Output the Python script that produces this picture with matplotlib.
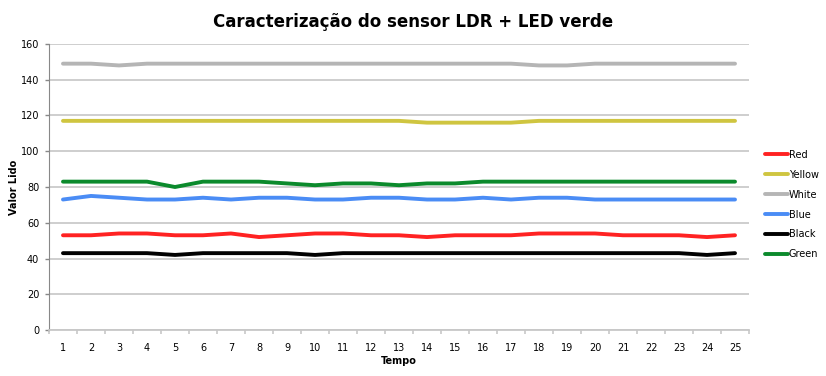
import numpy as np
import matplotlib.pyplot as plt

tempo = list(range(1, 26))

red = [53, 53, 54, 54, 53, 53, 54, 52, 53, 54, 54, 53, 53, 52, 53, 53, 53, 54, 54, 54, 53, 53, 53, 52, 53]
yellow = [117] * 13 + [116, 116, 116, 116] + [117] * 8
white = [149, 149, 148, 149, 149, 149, 149, 149, 149, 149, 149, 149, 149, 149, 149, 149, 149, 148, 148, 149, 149, 149, 149, 149, 149]
blue = [73, 75, 74, 73, 73, 74, 73, 74, 74, 73, 73, 74, 74, 73, 73, 74, 73, 74, 74, 73, 73, 73, 73, 73, 73]
black = [43, 43, 43, 43, 42, 43, 43, 43, 43, 42, 43, 43, 43, 43, 43, 43, 43, 43, 43, 43, 43, 43, 43, 42, 43]
green = [83, 83, 83, 83, 80, 83, 83, 83, 82, 81, 82, 82, 81, 82, 82, 83, 83, 83, 83, 83, 83, 83, 83, 83, 83]

series = [("Red", red, "#ff2222"),
          ("Yellow", yellow, "#cfc540"),
          ("White", white, "#b5b5b5"),
          ("Blue", blue, "#4a8cf5"),
          ("Black", black, "#000000"),
          ("Green", green, "#0b8a2c")]

fig = plt.figure(figsize=(8.26, 3.76), dpi=100)
ax = fig.add_axes([0.0593, 0.1223, 0.8475, 0.7607])

for name, vals, col in series:
    ax.plot(tempo, vals, color=col, lw=2.8, label=name, solid_capstyle='round', zorder=3)

ax.set_xlim(0.5, 25.5)
ax.set_ylim(0, 160)
ax.set_yticks(np.arange(0, 161, 20))
ax.yaxis.grid(True, color="#cacaca", lw=1.3)
ax.set_axisbelow(True)

ax.set_xticks(tempo)
ax.set_xticks(np.arange(0.5, 26, 1), minor=True)
ax.tick_params(axis='x', which='major', length=0, labelsize=7, pad=9)
ax.tick_params(axis='x', which='minor', length=3, width=1.2, color="#c8c8c8")
ax.tick_params(axis='y', length=3, width=1, color="#888888", labelsize=7, pad=4)

for s in ["top", "right"]:
    ax.spines[s].set_visible(False)
ax.spines["left"].set_color("#888888")
ax.spines["bottom"].set_color("#c8c8c8")
ax.spines["bottom"].set_linewidth(1.3)

ax.set_xlabel("Tempo", fontsize=7, fontweight='bold')
ax.xaxis.set_label_coords(0.5, -0.09)
ax.set_ylabel("Valor Lido", fontsize=7, fontweight='bold')
ax.yaxis.set_label_coords(-0.043, 0.5)

fig.suptitle("Caracterização do sensor LDR + LED verde", fontsize=12, fontweight='bold', y=0.965)

ax.legend(loc='upper left', bbox_to_anchor=(0.922, 0.612), bbox_transform=fig.transFigure,
          frameon=False, fontsize=7, handlelength=2.3, handletextpad=0.1,
          labelspacing=1.02, borderaxespad=0)

fig.savefig("out.png", dpi=100)
